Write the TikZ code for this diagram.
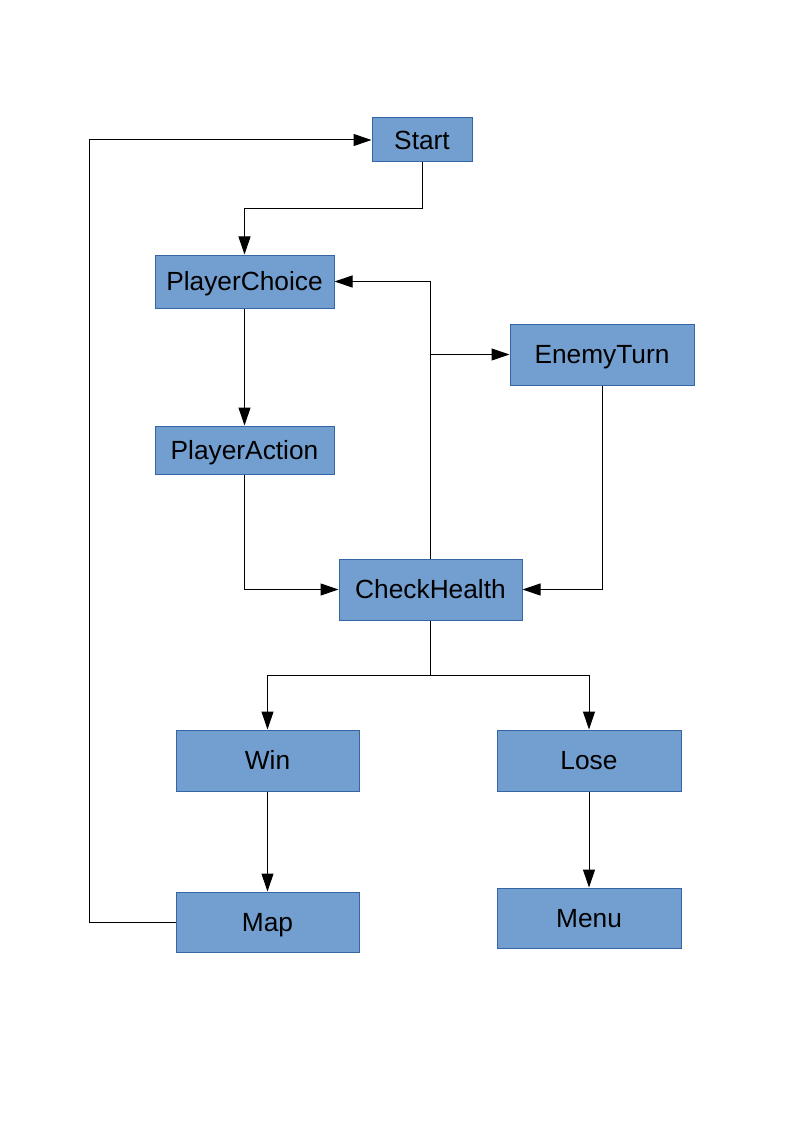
\documentclass[tikz,border=0pt]{standalone}
\usepackage{fontspec}
\setmainfont{Liberation Sans}
\usetikzlibrary{arrows.meta}
\definecolor{boxfill}{HTML}{729FCF}
\definecolor{boxline}{HTML}{3465A4}
\begin{document}
\begin{tikzpicture}[x=1pt,y=-1pt,
  box/.style={draw=boxline,fill=boxfill,line width=1pt,inner sep=0pt,
    font=\fontsize{26.3}{30}\selectfont,text=black,text height=18.8pt,text depth=0pt},
  conn/.style={draw=black,line width=1pt,-{Triangle[length=18pt,width=12pt]}},
  plain/.style={draw=black,line width=1pt}]
\useasboundingbox (0,0) rectangle (794,1123);
\node[box,minimum width=100pt,minimum height=44pt] (start) at (422,140) {Start};
\node[box,minimum width=179pt,minimum height=53pt] (pc) at (244.5,281.5) {PlayerChoice};
\node[box,minimum width=184pt,minimum height=61pt] (et) at (602,354.5) {EnemyTurn};
\node[box,minimum width=179pt,minimum height=48pt] (pa) at (244.5,450) {PlayerAction};
\node[box,minimum width=183pt,minimum height=61pt] (ch) at (430.5,589.5) {CheckHealth};
\node[box,minimum width=183pt,minimum height=61pt] (win) at (267.5,760.5) {Win};
\node[box,minimum width=184pt,minimum height=61pt] (lose) at (589,760.5) {Lose};
\node[box,minimum width=183pt,minimum height=60pt] (map) at (267.5,922) {Map};
\node[box,minimum width=184pt,minimum height=60pt] (menu) at (589,918) {Menu};
\coordinate (j1) at (430.5,354.5);
\coordinate (sbend) at (422,208.5);
\draw[conn] (start.south) -- (sbend) -| (pc.north);
\draw[conn] (map.west) -- (89,922) |- (start.west);
\draw[conn] (pc.south) -- (pa.north);
\draw[conn] (pa.south) |- (ch.west);
\draw[conn] (ch.north) |- (pc.east);
\draw[conn] (j1) -- (et.west);
\draw[conn] (et.south) |- (ch.east);
\draw[plain] (ch.south) -- (430.5,675);
\draw[conn] (430.5,675) -| (win.north);
\draw[conn] (430.5,675) -| (lose.north);
\draw[conn] (win.south) -- (map.north);
\draw[conn] (lose.south) -- (menu.north);
\end{tikzpicture}
\end{document}
